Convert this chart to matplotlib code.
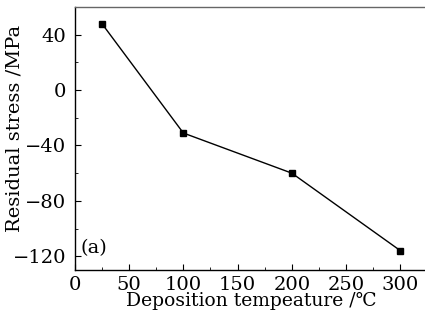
import matplotlib
matplotlib.use("Agg")
import matplotlib.pyplot as plt
from matplotlib.ticker import MultipleLocator

plt.rcParams['font.family'] = ['DejaVu Serif', 'DejaVu Sans']
plt.rcParams['axes.unicode_minus'] = True

temperature = [25, 100, 200, 300]
stress = [48, -31, -60, -116]
xticks = [0, 50, 100, 150, 200, 250, 300]
yticks = [40, 0, -40, -80, -120]

fig = plt.figure(figsize=(4.25, 3.2), dpi=100)
ax = fig.add_axes([0.176, 0.156, 0.83, 0.822])
ax.plot(temperature, stress, color='black', lw=1.0, marker='s', markersize=4.5)
ax.set_xlim(0, 325)
ax.set_ylim(-130, 60)
ax.set_xticks(xticks)
ax.set_yticks(yticks)
ax.xaxis.set_minor_locator(MultipleLocator(25))
ax.yaxis.set_minor_locator(MultipleLocator(20))
ax.tick_params(which='both', direction='in', top=False, right=False, labelsize=14)
ax.tick_params(axis='x', which='major', pad=4)
ax.tick_params(axis='y', which='major', pad=6)
ax.tick_params(which='major', length=4)
ax.tick_params(which='minor', length=2.5)
for s in ax.spines.values():
    s.set_linewidth(1.0)
ax.spines['top'].set_color('#666666')
ax.set_xlabel('Deposition tempeature /℃', fontsize=13.5, labelpad=-1)
ax.set_ylabel('Residual stress /MPa', fontsize=14, labelpad=0)
ax.yaxis.set_label_coords(-0.145, 0.54)
ax.text(0.015, 0.065, '(a)', transform=ax.transAxes, fontsize=14)
fig.savefig('out.png', dpi=100)
